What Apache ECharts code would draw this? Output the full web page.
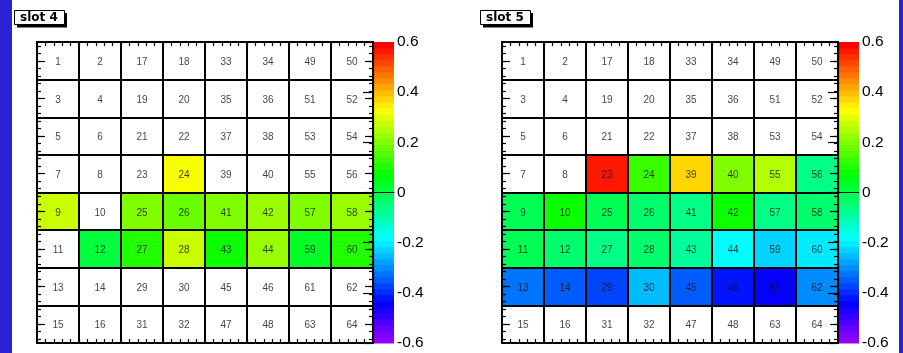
<!DOCTYPE html>
<html>
<head>
<meta charset="utf-8">
<script src="https://cdn.jsdelivr.net/npm/echarts@6/dist/echarts.min.js"></script>
<style>
html, body { margin: 0; padding: 0; background: #fff; }
#chart { width: 903px; height: 353px; }
</style>
</head>
<body>
<div id="chart"></div>
<script>
// Channel numbering of the 8x8 pad matrix, top row first, left to right
const channelRows = [
  [1, 2, 17, 18, 33, 34, 49, 50],
  [3, 4, 19, 20, 35, 36, 51, 52],
  [5, 6, 21, 22, 37, 38, 53, 54],
  [7, 8, 23, 24, 39, 40, 55, 56],
  [9, 10, 25, 26, 41, 42, 57, 58],
  [11, 12, 27, 28, 43, 44, 59, 60],
  [13, 14, 29, 30, 45, 46, 61, 62],
  [15, 16, 31, 32, 47, 48, 63, 64]
];

// Measured value per channel (null = no entry, cell left empty)
const slot4Values = [
  [null, null, null, null, null, null, null, null],
  [null, null, null, null, null, null, null, null],
  [null, null, null, null, null, null, null, null],
  [null, null, null, 0.32, null, null, null, null],
  [0.27, null, 0.20, 0.18, 0.20, 0.23, 0.20, 0.22],
  [null, 0.01, 0.11, 0.27, 0.08, 0.23, 0.03, 0.10],
  [null, null, null, null, null, null, null, null],
  [null, null, null, null, null, null, null, null]
];
const slot5Values = [
  [null, null, null, null, null, null, null, null],
  [null, null, null, null, null, null, null, null],
  [null, null, null, null, null, null, null, null],
  [null, null, 0.56, 0.13, 0.37, 0.20, 0.25, -0.06],
  [-0.01, 0.08, -0.01, -0.03, -0.06, 0.08, -0.06, -0.04],
  [-0.02, -0.04, -0.05, -0.03, -0.08, -0.18, -0.23, -0.20],
  [-0.32, -0.35, -0.37, -0.25, -0.35, -0.42, -0.44, -0.30],
  [null, null, null, null, null, null, null, null]
];

const slotTitles = ['slot 4', 'slot 5'];

// Colour scale: 50 discrete hues from violet (low) to red (high)
const zMin = -0.6;
const zMax = 0.6;
const zStep = 0.2;
const nColors = 50;

function hslToRgb(h, s, l) {
  const c = (1 - Math.abs(2 * l - 1)) * s;
  const hp = h / 60;
  const x = c * (1 - Math.abs((hp % 2) - 1));
  let r = 0, g = 0, b = 0;
  if (hp < 1) { r = c; g = x; }
  else if (hp < 2) { r = x; g = c; }
  else if (hp < 3) { g = c; b = x; }
  else if (hp < 4) { g = x; b = c; }
  else if (hp < 5) { r = x; b = c; }
  else { r = c; b = x; }
  const m = l - c / 2;
  const to = v => Math.round((v + m) * 255);
  return 'rgb(' + to(r) + ',' + to(g) + ',' + to(b) + ')';
}
function paletteColor(i) {
  return hslToRgb(280 - (i + 1) * 280 / nColors, 1, 0.5);
}

const pieces = [];
const paletteBands = [];
for (let i = 0; i < nColors; i++) {
  const lo = zMin + (zMax - zMin) * i / nColors;
  const hi = zMin + (zMax - zMin) * (i + 1) / nColors;
  const piece = { gte: lo, color: paletteColor(i) };
  if (i === nColors - 1) piece.lte = hi; else piece.lt = hi;
  pieces.push(piece);
  paletteBands.push([lo, hi, (lo + hi) / 2]);
}

// Layout of the two pads
const frameTop = 42, frameW = 336, frameH = 301, palW = 21;
const pads = [
  { values: slot4Values, title: slotTitles[0], x: 37, pal: 373, box: 14 },
  { values: slot5Values, title: slotTitles[1], x: 502, pal: 838, box: 480 }
];

const colCats = ['1', '2', '3', '4', '5', '6', '7', '8'];
const fineCats = Array.from({ length: 40 }, (_, i) => String(i));
const black = '#000';
const thick = { show: true, lineStyle: { color: black, width: 2 } };
const noLabel = { show: false };
const noTick = { show: false };
const noLine = { show: false };
const noSplit = { show: false };

const grid = [], xAxis = [], yAxis = [], series = [], graphic = [];
const mappedSeries = [];

function addX(a) { xAxis.push(a); return xAxis.length - 1; }
function addY(a) { yAxis.push(a); return yAxis.length - 1; }

pads.forEach(pad => {
  const frame = { left: pad.x, top: frameTop, width: frameW, height: frameH, containLabel: false, outerBoundsMode: 'none' };
  const gData = grid.push(Object.assign({}, frame)) - 1;
  const gFine = grid.push(Object.assign({}, frame)) - 1;
  const gEdge = grid.push(Object.assign({}, frame)) - 1;
  const gPal = grid.push({ left: pad.pal, top: frameTop, width: palW, height: frameH, containLabel: false, outerBoundsMode: 'none' }) - 1;

  // cell grid + bottom/left frame + major ticks on the left
  const xData = addX({
    type: 'category', gridIndex: gData, data: colCats, position: 'bottom', z: 3,
    axisLine: thick, axisTick: noTick, axisLabel: noLabel,
    splitLine: { show: true, interval: 0, lineStyle: { color: black, width: 2 } }
  });
  const yData = addY({
    type: 'category', gridIndex: gData, data: colCats, inverse: true, position: 'left', z: 3,
    axisLine: thick,
    axisTick: { show: true, inside: true, alignWithLabel: true, interval: 0, length: 8, lineStyle: { color: black, width: 1.2 } },
    axisLabel: noLabel,
    splitLine: { show: true, interval: 0, lineStyle: { color: black, width: 2 } }
  });

  // fine ticks on all four sides
  const fineTick = { show: true, inside: true, interval: 0, length: 4, lineStyle: { color: black, width: 1.2 } };
  const fineTickMid = Object.assign({}, fineTick, { alignWithLabel: true });
  addX({ type: 'category', gridIndex: gFine, data: fineCats, position: 'bottom', z: 3, axisLine: noLine, axisTick: fineTick, axisLabel: noLabel, splitLine: noSplit });
  addX({ type: 'category', gridIndex: gFine, data: fineCats, position: 'top', z: 3, axisLine: noLine, axisTick: fineTick, axisLabel: noLabel, splitLine: noSplit });
  addY({ type: 'category', gridIndex: gFine, data: fineCats, position: 'left', z: 3, axisLine: noLine, axisTick: fineTickMid, axisLabel: noLabel, splitLine: noSplit });
  addY({ type: 'category', gridIndex: gFine, data: fineCats, position: 'right', z: 3, axisLine: noLine, axisTick: fineTickMid, axisLabel: noLabel, splitLine: noSplit });

  // top/right frame + major ticks on the right
  addX({ type: 'category', gridIndex: gEdge, data: colCats, position: 'top', z: 3, axisLine: thick, axisTick: noTick, axisLabel: noLabel, splitLine: noSplit });
  addY({
    type: 'category', gridIndex: gEdge, data: colCats, inverse: true, position: 'right', z: 3, axisLine: thick,
    axisTick: { show: true, inside: true, alignWithLabel: true, interval: 0, length: 8, lineStyle: { color: black, width: 1.2 } },
    axisLabel: noLabel, splitLine: noSplit
  });

  // colour bar
  const xPal = addX({
    type: 'value', gridIndex: gPal, min: 0, max: 1, position: 'bottom', z: 3,
    axisLine: { show: true, lineStyle: { color: black, width: 1 } }, axisTick: noTick, axisLabel: noLabel, splitLine: noSplit
  });
  const yPal = addY({
    type: 'value', gridIndex: gPal, min: zMin, max: zMax, interval: zStep, position: 'right', z: 3,
    axisLine: { show: true, lineStyle: { color: black, width: 1.2 } },
    axisTick: { show: true, inside: true, length: 10, lineStyle: { color: black, width: 1.2 } },
    axisLabel: {
      show: true, margin: 3, color: black, fontSize: 15.5, fontFamily: 'Liberation Sans',
      formatter: v => { const r = Math.round(v * 10) / 10; return r === 0 ? '0' : String(r); }
    },
    splitLine: noSplit
  });

  const cells = [];
  const labels = [];
  pad.values.forEach((row, r) => row.forEach((v, c) => {
    if (v !== null) cells.push([c, r, v]);
    labels.push([c, r, channelRows[r][c]]);
  }));

  mappedSeries.push(series.length);
  series.push({
    type: 'heatmap', xAxisIndex: xData, yAxisIndex: yData, data: cells,
    itemStyle: { borderWidth: 0 }, emphasis: { disabled: true }, silent: true
  });
  series.push({
    type: 'scatter', xAxisIndex: xData, yAxisIndex: yData, data: labels,
    symbol: 'rect', symbolSize: 1, itemStyle: { color: 'transparent' }, z: 4, silent: true,
    label: {
      show: true, position: 'inside', offset: [0, 1.5], color: '#111', fontSize: 10, fontFamily: 'Liberation Sans',
      formatter: p => String(p.value[2])
    },
    emphasis: { disabled: true }
  });
  mappedSeries.push(series.length);
  series.push({
    type: 'custom', xAxisIndex: xPal, yAxisIndex: yPal, data: paletteBands, silent: true,
    renderItem: (params, api) => {
      const p0 = api.coord([0, api.value(1)]);
      const p1 = api.coord([1, api.value(0)]);
      return {
        type: 'rect',
        shape: { x: p0[0], y: p0[1], width: p1[0] - p0[0], height: p1[1] - p0[1] + 0.5 },
        style: { fill: api.visual('color') }
      };
    }
  });

  // pad title box with drop shadow
  graphic.push({ type: 'rect', silent: true, shape: { x: pad.box + 3, y: 13, width: 50, height: 14.5 }, style: { fill: '#000' } });
  graphic.push({ type: 'rect', silent: true, shape: { x: pad.box + 0.5, y: 10.5, width: 50, height: 14 }, style: { fill: '#fff', stroke: '#000', lineWidth: 1 } });
  graphic.push({
    type: 'text', silent: true, x: pad.box + 25, y: 17.5,
    style: { text: pad.title, fontSize: 12, fontWeight: 'bold', fontFamily: 'DejaVu Sans', fill: '#000', align: 'center', verticalAlign: 'middle' }
  });
});

// canvas side borders
graphic.push({ type: 'rect', silent: true, z: -1, shape: { x: 0, y: 0, width: 12, height: 353 }, style: { fill: '#2b22d5' } });
graphic.push({ type: 'rect', silent: true, z: -1, shape: { x: 899, y: 0, width: 4, height: 353 }, style: { fill: '#2b22d5' } });

const chart = echarts.init(document.getElementById('chart'), null, { renderer: 'canvas' });
chart.setOption({
  animation: false,
  backgroundColor: '#fff',
  grid, xAxis, yAxis, series, graphic,
  visualMap: {
    type: 'piecewise', show: false, dimension: 2, seriesIndex: mappedSeries,
    pieces: pieces, outOfRange: { color: '#fff' }
  }
});
</script>
</body>
</html>
